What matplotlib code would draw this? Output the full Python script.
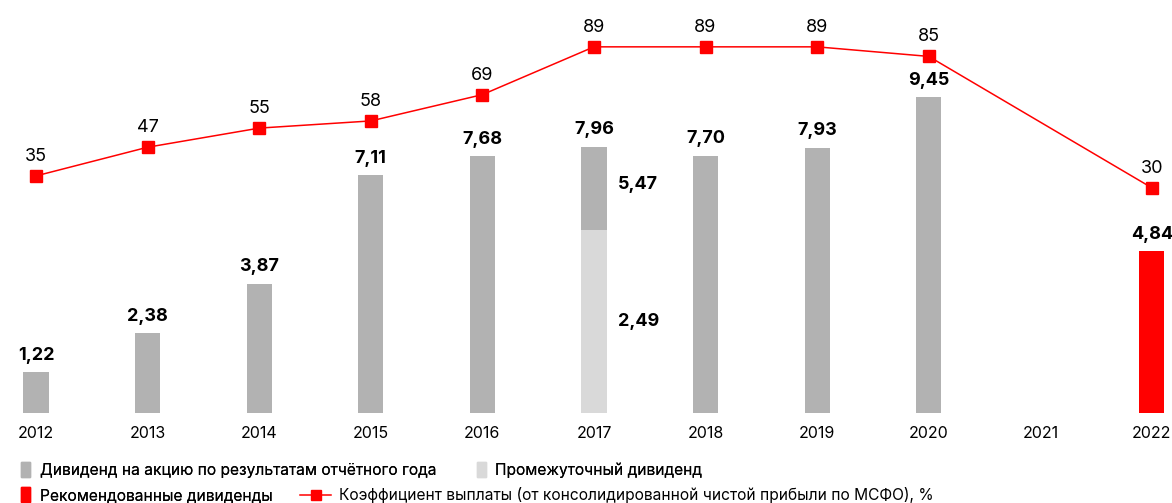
import numpy as np
import matplotlib
matplotlib.use('Agg')
import matplotlib.pyplot as plt
from matplotlib.lines import Line2D
from matplotlib.patches import Patch

# ======= DATA ======= #
years = ['2012', '2013', '2014', '2015', '2016', '2017', '2018', '2019', '2020', '2021', '2022']
interim_div = [0, 0, 0, 0, 0, 5.47, 0, 0, 0, 0, 0]
final_div = [1.22, 2.38, 3.87, 7.11, 7.68, 2.49, 7.70, 7.93, 9.45, np.nan, np.nan]
recommended_div = [np.nan] * 10 + [4.84]
total_labels = ['1,22', '2,38', '3,87', '7,11', '7,68', '7,96', '7,70', '7,93', '9,45', '', '4,84']
split_labels_2017 = ['2,49', '5,47']  # (light part, dark part) as printed on the chart
payout_years = ['2012', '2013', '2014', '2015', '2016', '2017', '2018', '2019', '2020', '2022']
payout = [35, 47, 55, 58, 69, 89, 89, 89, 85, 30]

GREY = '#b2b2b2'
LIGHT = '#d9d9d9'
RED = '#ff0000'

plt.rcParams['font.family'] = ['Inter', 'DejaVu Sans']

fig = plt.figure(figsize=(11.72, 5.03), dpi=100)
ax = fig.add_axes([0, 90 / 503, 1, 413 / 503])
ax2 = ax.twinx()

x = np.arange(len(years))
xpos = {y: i for i, y in enumerate(years)}
w = 0.225

interim = np.array(interim_div)
final = np.array(final_div)
ax.bar(x, interim, width=w, color=LIGHT, zorder=2)
ax.bar(x, final, width=w, bottom=interim, color=GREY, zorder=2)
ax.bar(x, recommended_div, width=w, color=RED, zorder=2)

totals = np.nansum(np.vstack([interim, final, np.nan_to_num(recommended_div)]), axis=0)
for i, lab in enumerate(total_labels):
    if lab:
        ax.annotate(lab, (x[i], totals[i]), xytext=(0, 6), textcoords='offset points',
                    ha='center', va='bottom', fontsize=13, fontweight='bold')

# split labels for 2017, centred on each segment
i17 = xpos['2017']
ax.annotate(split_labels_2017[0], (x[i17] + w / 2, interim[i17] / 2), xytext=(8, 0),
            textcoords='offset points', ha='left', va='center', fontsize=13, fontweight='bold')
ax.annotate(split_labels_2017[1], (x[i17] + w / 2, interim[i17] + final[i17] / 2), xytext=(8, 3),
            textcoords='offset points', ha='left', va='center', fontsize=13, fontweight='bold')

px = [xpos[y] for y in payout_years]
ax2.plot(px, payout, color=RED, lw=1.1, marker='s', ms=9, mec=RED, mfc=RED, zorder=3)
for xi, v in zip(px, payout):
    ax2.annotate(str(v), (xi, v), xytext=(0, 8), textcoords='offset points',
                 ha='center', va='bottom', fontsize=13)

ax.set_xlim(-0.3226, 10.18)
ax.set_ylim(0, 12.35)
ax2.set_ylim(-64.2, 108.6)
ax.set_xticks(x)
ax.set_xticklabels(years, fontsize=11.5)
ax.tick_params(axis='x', length=0, pad=9)
ax.set_yticks([])
ax2.set_yticks([])
for a in (ax, ax2):
    for s in a.spines.values():
        s.set_visible(False)

# legends
fs = 11.2
kw = dict(frameon=False, fontsize=fs, borderaxespad=0, borderpad=0, loc='center left')
leg1 = fig.legend([Patch(color=GREY), Patch(color=LIGHT)],
                  ['Дивиденд на акцию по результатам отчётного года', 'Промежуточный дивиденд'],
                  bbox_to_anchor=(0.018, 1 - 470 / 503), ncol=2, handlelength=0.6,
                  handleheight=1.1, handletextpad=0.6, columnspacing=2.6, **kw)
leg2 = fig.legend([Patch(color=RED)], ['Рекомендованные дивиденды'],
                  bbox_to_anchor=(0.018, 1 - 495 / 503), handlelength=0.6,
                  handleheight=1.1, handletextpad=0.6, **kw)
leg3 = fig.legend([Line2D([0], [0], color=RED, lw=1.1, marker='s', ms=7)],
                  ['Коэффициент выплаты (от консолидированной чистой прибыли по МСФО), %'],
                  bbox_to_anchor=(300 / 1172, 1 - 495 / 503), handlelength=2.0,
                  handletextpad=0.5, **kw)
fig.add_artist(leg1)
fig.add_artist(leg2)

fig.savefig('out.png', dpi=100)
